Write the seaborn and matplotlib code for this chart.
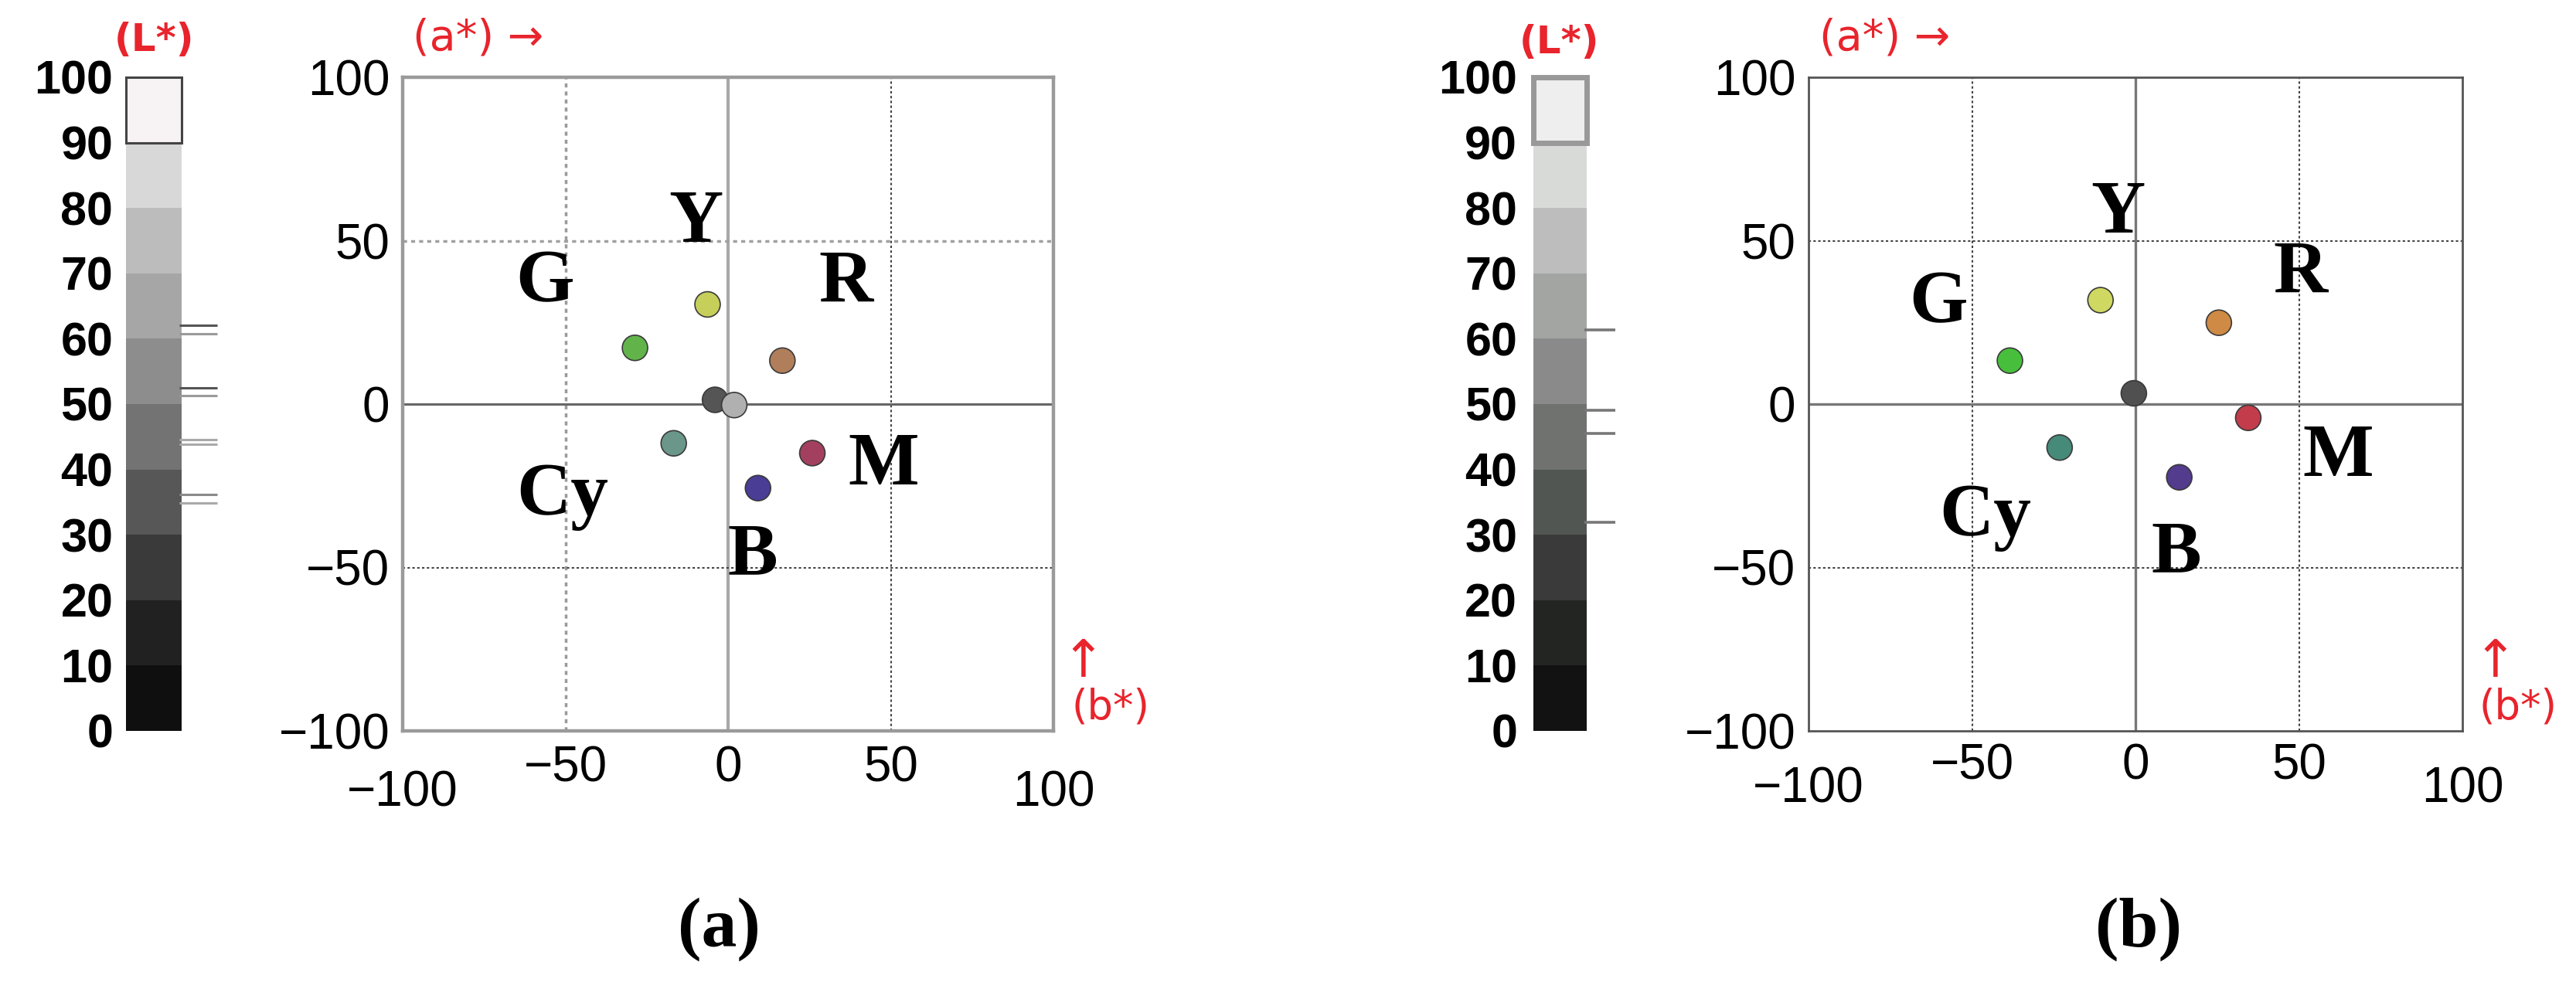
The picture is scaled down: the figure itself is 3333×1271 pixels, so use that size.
import numpy as np
import pandas as pd
import seaborn as sns
import matplotlib.pyplot as plt

# === basic setup ===
sns.set_theme(style="white")
plt.rcParams["font.family"] = ["Liberation Sans", "DejaVu Sans"]
plt.rcParams["text.color"] = "black"
plt.rcParams["xtick.color"] = "black"
plt.rcParams["ytick.color"] = "black"

RED = "#e8242c"
TICK_FONT, TICK_SIZE = "Liberation Sans", 46

# === data: L* scale ===
l_levels = [0, 10, 20, 30, 40, 50, 60, 70, 80, 90]
l_ticks = [0, 10, 20, 30, 40, 50, 60, 70, 80, 90, 100]
a_band_colors = ["#0f0f0f", "#202120", "#3a3a3a", "#575757", "#737373",
                 "#8d8d8d", "#a6a6a6", "#bcbcbc", "#d8d8d8", "#f7f2f4"]
b_band_colors = ["#121212", "#232523", "#3a3a3a", "#525652", "#707270",
                 "#8a8a8a", "#a2a5a2", "#bdbdbd", "#d8dad8", "#eeeeee"]
a_lmarks = [62.0, 60.8, 52.5, 51.3, 44.6, 43.8, 36.2, 34.9]
a_lmark_colors = ["#555555", "#9a9a9a", "#555555", "#9a9a9a",
                  "#aaaaaa", "#aaaaaa", "#8a8a8a", "#aaaaaa"]
b_lmarks = [61.3, 49.1, 45.5, 31.9]
b_lmark_colors = ["#777777", "#777777", "#777777", "#777777"]

# === data: a*-b* points ===
a_names = ["Y", "G", "R", "Bk", "W", "Cy", "M", "B"]
a_x = [-6.3, -28.6, 16.7, -4.0, 1.9, -16.7, 25.9, 9.2]
a_y = [30.5, 17.2, 13.3, 1.3, -0.3, -12.0, -15.0, -25.7]
a_colors = ["#c6cf5a", "#62b44a", "#b07e5a", "#555555", "#b0b0b0",
            "#6b968a", "#a4405f", "#4a3d96"]

b_names = ["Y", "G", "R", "Bk", "Cy", "M", "B"]
b_x = [-10.7, -38.4, 25.5, -0.5, -23.2, 34.5, 13.4]
b_y = [31.8, 13.3, 24.9, 3.3, -13.3, -4.2, -22.4]
b_colors = ["#cfd860", "#48bf3c", "#cf8a45", "#505050", "#468a7a",
            "#c23c4c", "#533b8e"]

# === data: point labels (text baseline positions) ===
label_text = ["Y", "G", "R", "M", "Cy", "B"]
a_label_x = [-10.0, -56.3, 36.2, 47.9, -50.8, 7.6]
a_label_y = [49.7, 31.3, 31.3, -24.5, -33.7, -52.3]
b_label_x = [-5.4, -60.2, 50.5, 62.1, -45.9, 12.5]
b_label_y = [52.5, 24.9, 34.2, -21.9, -40.2, -51.5]

ab_ticks = [-100, -50, 0, 50, 100]

W, H = 3333, 1271
fig = plt.figure(figsize=(W / 100, H / 100), dpi=100)
fig.patch.set_facecolor("white")


def px_axes(left, top, width, height):
    return fig.add_axes([left / W, 1 - (top + height) / H, width / W, height / H])


def draw_lbar(ax, band_colors, marks, mark_colors, bar_px, total_px,
              top_edge, top_lw, label_pad, mark_lw):
    ax.bar(np.zeros(len(l_levels)), 10, bottom=l_levels, width=1,
           color=band_colors, linewidth=0)
    top = ax.patches[-1]
    top.set_edgecolor(top_edge)
    top.set_linewidth(top_lw)
    top.set_clip_on(False)
    x0 = -0.5 + (bar_px - 3) / bar_px
    x1 = -0.5 + (total_px - 12) / bar_px
    ax.hlines(marks, x0, x1, colors=mark_colors, lw=mark_lw)
    ax.set_xlim(-0.5, -0.5 + total_px / bar_px)
    ax.set_ylim(0, 100)
    ax.set_xticks([])
    ax.set_yticks(l_ticks)
    ax.set_yticklabels([str(t) for t in l_ticks], fontsize=44,
                       fontweight="bold", family="Liberation Sans")
    ax.tick_params(axis="y", length=0, pad=label_pad)
    for s in ax.spines.values():
        s.set_visible(False)
    ax.set_facecolor("none")


def draw_lines(ax, vlines, hlines):
    for val, color, lw, ls in vlines:
        ax.axvline(val, color=color, lw=lw, ls=ls, zorder=1)
    for val, color, lw, ls in hlines:
        ax.axhline(val, color=color, lw=lw, ls=ls, zorder=1)


def draw_ab(ax, names, xs, ys, colors, lab_x, lab_y, spine_color, spine_lw,
            x_pads, arrow_x, bstar_x):
    df = pd.DataFrame({"name": names, "x": xs, "y": ys})
    palette = dict(zip(names, colors))
    ax.set_xlim(-100, 100)
    ax.set_ylim(-100, 100)
    sns.scatterplot(data=df, x="x", y="y", hue="name", palette=palette,
                    s=560, edgecolor="#3a3a3a", linewidth=1.2, legend=False,
                    ax=ax, zorder=5)
    for t, lx, ly in zip(label_text, lab_x, lab_y):
        ax.text(lx, ly, t, ha="center", va="baseline", fontsize=70,
                fontweight="bold", family="Liberation Serif", color="black",
                zorder=6)
    tick_labels = [str(t).replace("-", "\u2212") for t in ab_ticks]
    ax.set_xticks(ab_ticks)
    ax.set_yticks(ab_ticks)
    ax.set_xticklabels(tick_labels, family=TICK_FONT, fontsize=TICK_SIZE)
    ax.set_yticklabels(tick_labels, family=TICK_FONT, fontsize=TICK_SIZE)
    ax.tick_params(axis="both", length=0, labelcolor="black")
    ax.tick_params(axis="y", pad=12)
    for tick, val in zip(ax.xaxis.get_major_ticks(), ab_ticks):
        tick.set_pad(x_pads[1] if abs(val) == 100 else x_pads[0])
    ax.set_xlabel("")
    ax.set_ylabel("")
    for s in ax.spines.values():
        s.set_color(spine_color)
        s.set_linewidth(spine_lw)
        s.set_zorder(4)
    ax.grid(False)
    ax.text(0.016, 1.06, "(a*) \u2192", transform=ax.transAxes, color=RED,
            fontsize=40, family="DejaVu Sans", ha="left", va="center")
    ax.text(arrow_x, 0.105, "\u2191", transform=ax.transAxes, color=RED,
            fontsize=48, family="DejaVu Sans", ha="center", va="center")
    ax.text(bstar_x, 0.036, "(b*)", transform=ax.transAxes, color=RED,
            fontsize=38, family="DejaVu Sans", ha="left", va="center")


DOT = (0, (1.5, 1.5))

# === (a) ===
ax_la = px_axes(163, 100, 130, 846)
draw_lbar(ax_la, a_band_colors, a_lmarks, a_lmark_colors, 72, 130,
          "#444444", 2.2, 12, 2.2)
fig.text(199 / W, 1 - 52 / H, "(L*)", color=RED, fontsize=36,
         fontweight="bold", family="DejaVu Sans", ha="center", va="center")

ax_a = px_axes(521, 100, 842, 846)
draw_lines(ax_a,
           [(-50, "#9a9a9a", 2.5, DOT), (50, "#444444", 1.5, DOT),
            (0, "#a8a8a8", 3.0, "-")],
           [(50, "#a0a0a0", 2.5, DOT), (-50, "#444444", 1.5, DOT),
            (0, "#666666", 2.2, "-")])
draw_ab(ax_a, a_names, a_x, a_y, a_colors, a_label_x, a_label_y,
        "#9a9a9a", 3.2, (13, 36), 1.046, 1.028)

# === (b) ===
ax_lb = px_axes(1984, 100, 118, 846)
draw_lbar(ax_lb, b_band_colors, b_lmarks, b_lmark_colors, 69, 118,
          "#999999", 5.0, 15, 2.6)
fig.text(2018 / W, 1 - 55 / H, "(L*)", color=RED, fontsize=36,
         fontweight="bold", family="DejaVu Sans", ha="center", va="center")

ax_b = px_axes(2340, 100, 846, 846)
draw_lines(ax_b,
           [(-50, "#444444", 1.5, DOT), (50, "#444444", 1.5, DOT),
            (0, "#777777", 2.4, "-")],
           [(50, "#444444", 1.5, DOT), (-50, "#444444", 1.5, DOT),
            (0, "#777777", 2.4, "-")])
draw_ab(ax_b, b_names, b_x, b_y, b_colors, b_label_x, b_label_y,
        "#555555", 2.0, (11, 33), 1.05, 1.026)

# === panel captions ===
fig.text(930 / W, 1 - 1203 / H, "(a)", fontsize=66, fontweight="bold",
         family="Liberation Serif", ha="center", va="center")
fig.text(2767 / W, 1 - 1203 / H, "(b)", fontsize=66, fontweight="bold",
         family="Liberation Serif", ha="center", va="center")

fig.savefig("out.png", dpi=100, facecolor="white")
